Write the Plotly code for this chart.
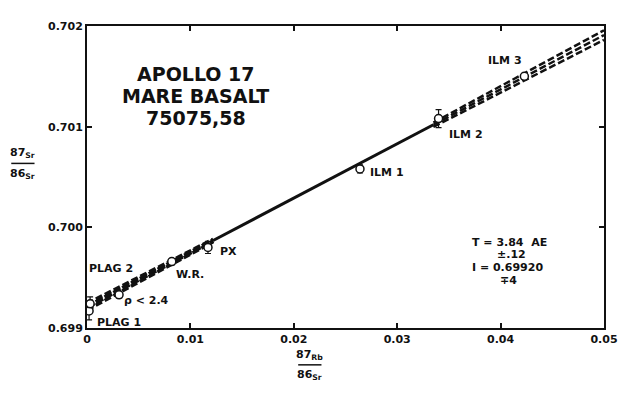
import numpy as np
import plotly.graph_objects as go

# ---- data ----
sample_names = ["PLAG 1", "PLAG 2", "ρ < 2.4", "W.R.", "PX", "ILM 1", "ILM 2", "ILM 3"]
rb_sr = [0.0002, 0.0003, 0.0031, 0.0082, 0.0117, 0.0264, 0.0340, 0.0423]
sr_sr = [0.69917, 0.69924, 0.69933, 0.69966, 0.69980, 0.70058, 0.70108, 0.70150]
sr_err = [0.00009, 0.00007, 0.00003, 0.00003, 0.00006, 0.00004, 0.00009, 0.00003]

iso_intercept = 0.69921
iso_slope = 0.0540
iso_slope_err = 0.0016
iso_pivot = 0.020

x_ticks = [0, 0.01, 0.02, 0.03, 0.04, 0.05]
x_ticklabels = ["0", "0.01", "0.02", "0.03", "0.04", "0.05"]
y_ticks = [0.699, 0.700, 0.701, 0.702]
y_ticklabels = ["0.699", "0.700", "0.701", "0.702"]

FONT = "DejaVu Sans"
INK = "#111111"

fig = go.Figure()


def iso(x, ds=0.0):
    x = np.asarray(x)
    return iso_intercept + iso_slope * x + ds * (x - iso_pivot)


def seg(x0, x1, ds, dash, width):
    xs = np.linspace(x0, x1, 30)
    fig.add_trace(go.Scatter(x=xs, y=iso(xs, ds), mode="lines",
                             line=dict(color=INK, width=width, dash=dash),
                             hoverinfo="skip", showlegend=False))


# central line: solid in the middle, dashed at ends
seg(0.0, 0.0122, 0, "8px,2px", 4.5)
seg(0.0122, 0.0335, 0, "solid", 3)
seg(0.0335, 0.0500, 0, "7px,3px", 2.5)
# error envelope
for s in (iso_slope_err, -iso_slope_err):
    seg(0.0, 0.0122, s, "7px,3px", 3.5)
    seg(0.0335, 0.0500, s, "7px,3px", 2.5)

fig.add_trace(go.Scatter(
    x=rb_sr, y=sr_sr, mode="markers",
    marker=dict(symbol="circle", size=8, color="white",
                line=dict(color=INK, width=1.5)),
    error_y=dict(type="data", array=sr_err, visible=True,
                 color=INK, thickness=1.2, width=3),
    showlegend=False, hoverinfo="skip"))

lab = dict(size=11, family=FONT, color=INK, weight="bold")

# point labels (positioned relative to points)
offsets = {
    "PLAG 1": (0.0006, -0.00012, "left"),
    "PLAG 2": (-0.0003, 0.00035, "left"),
    "ρ < 2.4": (0.0003, -0.00006, "left"),
    "W.R.": (0.0002, -0.00013, "left"),
    "PX": (0.0010, -0.00004, "left"),
    "ILM 1": (0.0008, -0.00004, "left"),
    "ILM 2": (0.0008, -0.00016, "left"),
    "ILM 3": (-0.0019, 0.00016, "center"),
}
for name, x, y in zip(sample_names, rb_sr, sr_sr):
    dx, dy, al = offsets[name]
    fig.add_annotation(x=x + dx, y=y + dy, text=name, showarrow=False,
                       xanchor=al, yanchor="middle", font=lab)

title_font = dict(size=19, family=FONT, color=INK, weight="bold")
for i, t in enumerate(["APOLLO 17", "MARE BASALT", "75075,58"]):
    fig.add_annotation(x=0.0105, y=0.70152 - i * 0.000215, text=t, showarrow=False,
                       xanchor="center", yanchor="middle", font=title_font)

stats = [("T = 3.84  AE", 0.0370, 0.69985, "left"),
         ("±.12", 0.0395, 0.69973, "left"),
         ("I = 0.69920", 0.0370, 0.69960, "left"),
         ("∓4", 0.0397, 0.69947, "left")]
for t, x, y, al in stats:
    fig.add_annotation(x=x, y=y, text=t, showarrow=False, xanchor=al,
                       yanchor="middle", font=lab)

# axis titles as stacked fractions (paper coords)
frac_font = dict(size=11, family=FONT, color=INK, weight="bold")
def fraction(xp, yp, top, bottom, width):
    fig.add_annotation(xref="paper", yref="paper", x=xp, y=yp + 0.004, text=top,
                       showarrow=False, xanchor="center", yanchor="bottom", font=frac_font)
    fig.add_annotation(xref="paper", yref="paper", x=xp, y=yp - 0.004, text=bottom,
                       showarrow=False, xanchor="center", yanchor="top", font=frac_font)
    fig.add_shape(type="line", xref="paper", yref="paper", x0=xp - width / 2,
                  x1=xp + width / 2, y0=yp, y1=yp, line=dict(color=INK, width=1.5))

fraction(-0.124, 0.545, "87<sub>Sr</sub>", "86<sub>Sr</sub>", 0.045)
fraction(0.431, -0.122, "87<sub>Rb</sub>", "86<sub>Sr</sub>", 0.045)

axis_common = dict(showgrid=False, zeroline=False, showline=True, linecolor=INK,
                   linewidth=2, mirror="ticks", ticks="inside", ticklen=5,
                   tickwidth=1.5, tickcolor=INK,
                   tickfont=dict(size=11, family=FONT, color=INK, weight="bold"))

fig.update_xaxes(range=[0, 0.05], tickvals=x_ticks, ticktext=x_ticklabels, **axis_common)
fig.update_yaxes(range=[0.699, 0.702], tickvals=y_ticks, ticktext=y_ticklabels, **axis_common)

# page has an 8px body margin, so the figure is sized to fit the window
fig.update_layout(width=633, height=391, margin=dict(l=79, r=37, t=18, b=71),
                  paper_bgcolor="white", plot_bgcolor="white", showlegend=False)

fig.write_html("out.html")
